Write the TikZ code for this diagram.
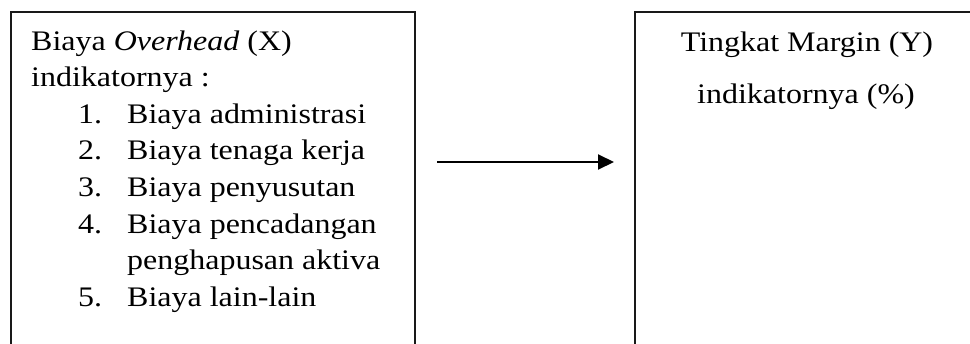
\documentclass[tikz,border=0pt]{standalone}
\usepackage{fontspec}
\usepackage{graphicx}
\setmainfont{Liberation Serif}
\usetikzlibrary{arrows.meta}
\newcommand{\hstretch}[1]{\scalebox{1.13}[1]{#1}}
\begin{document}
\begin{tikzpicture}[x=1pt,y=1pt,
  txt/.style={anchor=base west, inner sep=0pt, font=\fontsize{28.3}{34}\selectfont},
  ctxt/.style={anchor=base, inner sep=0pt, font=\fontsize{28.3}{34}\selectfont},
  box/.style={draw=black!90, line width=2pt, anchor=north west, inner sep=0pt, minimum height=420pt},
  conn/.style={line width=2pt, -{Triangle[length=16pt,width=15pt]}}
]
\useasboundingbox (0,0) rectangle (970,-343);
\fill[white] (0,0) rectangle (970,-343);
\clip (0,0) rectangle (970,-343);
\node[box, minimum width=404pt] (X) at (10,-11) {};
\node[box, minimum width=420pt] (Y) at (634,-11) {};
% left texts
\node[txt] (x1) at (31,-50) {\hstretch{Biaya \textit{Overhead} (X)}};
\node[txt] (x2) at (31,-86.6) {\hstretch{indikatornya :}};
\node[txt] (n1) at (78,-123.2) {\hstretch{1.}};
\node[txt] (i1) at (127,-123.2) {\hstretch{Biaya administrasi}};
\node[txt] (n2) at (78,-159.8) {\hstretch{2.}};
\node[txt] (i2) at (127,-159.8) {\hstretch{Biaya tenaga kerja}};
\node[txt] (n3) at (78,-196.4) {\hstretch{3.}};
\node[txt] (i3) at (127,-196.4) {\hstretch{Biaya penyusutan}};
\node[txt] (n4) at (78,-233) {\hstretch{4.}};
\node[txt] (i4) at (127,-233) {\hstretch{Biaya pencadangan}};
\node[txt] (i4b) at (127,-269.6) {\hstretch{penghapusan aktiva}};
\node[txt] (n5) at (78,-306.2) {\hstretch{5.}};
\node[txt] (i5) at (127,-306.2) {\hstretch{Biaya lain-lain}};
% right texts
\node[ctxt] (y1) at (807,-51.7) {\hstretch{Tingkat Margin (Y)}};
\node[ctxt] (y2) at (806,-103.3) {\hstretch{indikatornya (\%)}};
% arrow
\coordinate (a0) at (437,-162);
\coordinate (a1) at (614,-162);
\draw[conn] (a0) -- (a1);
\end{tikzpicture}
\end{document}
